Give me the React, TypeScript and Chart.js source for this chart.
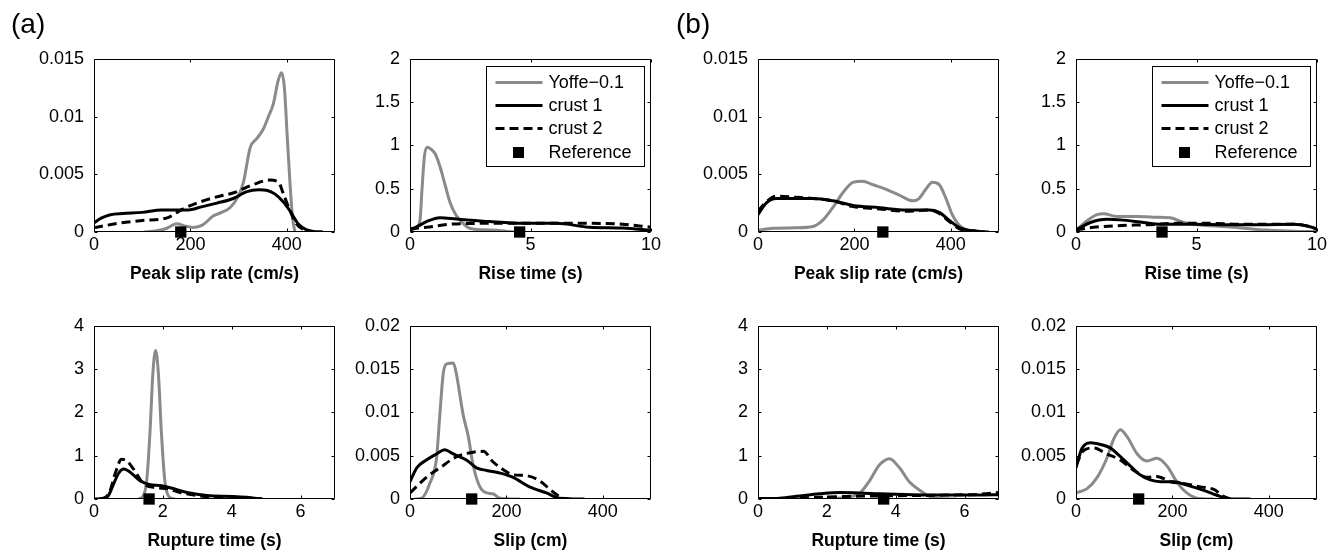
import React, { useEffect, useRef } from "react";
import { Chart, registerables } from "chart.js";
Chart.register(...registerables);

type Pt = [number, number];

const FONT = '"Liberation Sans", Arial, Helvetica, sans-serif';
const GRAY = "#8a8a8a";

// ---------- tick labels ----------
const peakTicksX = [0, 200, 400];
const peakTicksY = [0, 0.005, 0.01, 0.015];
const riseTicksX = [0, 5, 10];
const riseTicksY = [0, 0.5, 1, 1.5, 2];
const ruptTicksX = [0, 2, 4, 6];
const ruptTicksY = [0, 1, 2, 3, 4];
const slipTicksX = [0, 200, 400];
const slipTicksY = [0, 0.005, 0.01, 0.015, 0.02];

const seriesLabels = ["Yoffe\u22120.1", "crust 1", "crust 2", "Reference"];

// ---------- (a) Peak slip rate ----------
const aPeakYoffe: Pt[] = [[103,0],[130,0.0001],[150,0.0003],[172,0.00072],[190,0.0005],[206,0.0004],[225,0.0006],[248,0.0014],[265,0.0017],[282,0.0021],[298,0.003],[310,0.0043],[324,0.0073],[338,0.0081],[351,0.0089],[362,0.01],[372,0.0111],[382,0.0131],[389,0.0138],[395,0.0125],[401,0.0082],[407,0.004],[412,0.0012],[417,0]];
const aPeakCrust1: Pt[] = [[0,0.0008],[15,0.0012],[34,0.0015],[60,0.0016],[100,0.0017],[140,0.0019],[193,0.0019],[225,0.0022],[255,0.0025],[289,0.0029],[317,0.0035],[342,0.00366],[360,0.0036],[375,0.0033],[393,0.0026],[407,0.0018],[424,0.0007],[440,0.0002],[455,0.00005],[475,0]];
const aPeakCrust2: Pt[] = [[0,0.00036],[48,0.00074],[100,0.001],[150,0.0012],[165,0.0015],[180,0.0019],[220,0.0026],[260,0.0031],[290,0.0034],[330,0.0041],[365,0.0045],[383,0.0043],[393,0.0033],[407,0.0018],[420,0.0007],[435,0.0002],[450,0]];
const aPeakRef = 180;

// ---------- (a) Rise time ----------
const aRiseYoffe: Pt[] = [[0,0.02],[0.3,0.06],[0.42,0.15],[0.5,0.5],[0.6,0.88],[0.72,0.98],[0.9,0.95],[1.05,0.9],[1.25,0.75],[1.45,0.55],[1.65,0.35],[1.9,0.2],[2.2,0.1],[2.5,0.04],[3.0,0.025],[3.6,0.02],[4.3,0]];
const aRiseCrust1: Pt[] = [[0,0.02],[0.35,0.07],[0.69,0.12],[1.24,0.165],[1.93,0.15],[3.3,0.12],[4.7,0.1],[6.07,0.1],[7.45,0.055],[8.83,0.045],[10,0.02]];
const aRiseCrust2: Pt[] = [[0,0.04],[0.69,0.055],[1.65,0.09],[3.3,0.1],[5.4,0.1],[7.45,0.1],[8.83,0.09],[10,0.055]];
const aRiseRef = 4.55;

// ---------- (a) Rupture time ----------
const aRuptYoffe: Pt[] = [[1.3,0],[1.45,0.1],[1.54,0.5],[1.63,1.6],[1.71,2.9],[1.79,3.43],[1.87,2.9],[1.96,1.5],[2.06,0.4],[2.18,0.05],[2.35,0]];
const aRuptCrust1: Pt[] = [[0,0],[0.3,0.01],[0.42,0.08],[0.57,0.35],[0.72,0.6],[0.86,0.69],[1.05,0.62],[1.34,0.42],[1.63,0.33],[1.92,0.31],[2.21,0.26],[2.7,0.15],[3.28,0.08],[4.05,0.06],[4.44,0.04],[4.87,0]];
const aRuptCrust2: Pt[] = [[0.18,0],[0.35,0.05],[0.47,0.2],[0.62,0.6],[0.8,0.92],[0.95,0.88],[1.15,0.69],[1.44,0.35],[1.83,0.26],[2.12,0.24],[2.5,0.15],[3.09,0.07],[4.05,0.04],[4.63,0.015],[4.9,0]];
const aRuptRef = 1.6;

// ---------- (a) Slip ----------
const aSlipYoffe: Pt[] = [[10,0],[24,0.0001],[41,0.0018],[55,0.0047],[62,0.0098],[69,0.0145],[76,0.0156],[90,0.0157],[97,0.0142],[110,0.0098],[121,0.0072],[131,0.0039],[145,0.0014],[159,0.0007],[172,0.0006],[186,0.0001],[228,0]];
const aSlipCrust1: Pt[] = [[0,0.002],[14,0.0036],[34,0.0045],[55,0.0052],[72,0.0057],[90,0.0052],[117,0.0045],[138,0.0036],[159,0.0033],[186,0.003],[214,0.0025],[248,0.0014],[283,0.0007],[310,0.0001],[362,0]];
const aSlipCrust2: Pt[] = [[0,0.0007],[34,0.0025],[62,0.0036],[97,0.0049],[131,0.0054],[152,0.0055],[172,0.0043],[193,0.0034],[214,0.0028],[241,0.0027],[269,0.0021],[297,0.0008],[317,0.0001],[331,0]];
const aSlipRef = 128;

// ---------- (b) Peak slip rate ----------
const bPeakYoffe: Pt[] = [[0,0.00014],[31,0.00033],[79,0.00036],[114,0.00047],[134,0.001],[155,0.0021],[176,0.0034],[197,0.0043],[217,0.0044],[238,0.0041],[266,0.0037],[293,0.0032],[321,0.0027],[334,0.0029],[348,0.0037],[362,0.0043],[376,0.0041],[390,0.0029],[403,0.0015],[417,0.0006],[431,0.0002],[459,0]];
const bPeakCrust1: Pt[] = [[0,0.0015],[17,0.0025],[38,0.0029],[79,0.0029],[114,0.0029],[155,0.0027],[197,0.0023],[252,0.0021],[307,0.0019],[355,0.0019],[376,0.0017],[397,0.001],[417,0.0004],[445,0.0001],[479,0]];
const bPeakCrust2: Pt[] = [[0,0.0018],[17,0.0026],[38,0.0031],[79,0.003],[114,0.0029],[155,0.0027],[197,0.0022],[252,0.002],[307,0.0018],[355,0.0019],[376,0.0016],[397,0.0009],[417,0.0003],[445,0.0001],[470,0]];
const bPeakRef = 259;

// ---------- (b) Rise time ----------
const bRiseYoffe: Pt[] = [[0,0.02],[0.46,0.13],[0.87,0.2],[1.15,0.21],[1.7,0.18],[2.53,0.18],[3.22,0.17],[3.91,0.165],[4.47,0.11],[5.02,0.085],[6.27,0.06],[7.65,0.026],[9.03,0.01],[10,0.005]];
const bRiseCrust1: Pt[] = [[0,0.025],[0.6,0.11],[1.29,0.147],[1.84,0.14],[2.81,0.11],[3.5,0.09],[4.88,0.09],[6.27,0.085],[7.65,0.085],[9.03,0.09],[9.6,0.07],[10,0.035]];
const bRiseCrust2: Pt[] = [[0,0.025],[0.73,0.055],[1.7,0.073],[3.08,0.085],[4.19,0.1],[5.57,0.1],[6.96,0.09],[8.34,0.09],[9.17,0.09],[10,0.035]];
const bRiseRef = 3.57;

// ---------- (b) Rupture time ----------
const bRuptYoffe: Pt[] = [[1.98,0],[2.56,0.04],[2.95,0.13],[3.24,0.42],[3.53,0.79],[3.82,0.93],[4.11,0.72],[4.4,0.39],[4.7,0.2],[4.99,0.06],[5.28,0.01],[5.76,0]];
const bRuptCrust1: Pt[] = [[0,0.01],[0.63,0.02],[1.21,0.07],[1.79,0.12],[2.37,0.15],[2.95,0.14],[3.53,0.12],[4.5,0.1],[5.47,0.09],[6.44,0.09],[7,0.1]];
const bRuptCrust2: Pt[] = [[0,0],[1.11,0.02],[1.79,0.04],[2.56,0.06],[3.53,0.07],[4.5,0.08],[5.47,0.09],[6.44,0.11],[7,0.15]];
const bRuptRef = 3.65;

// ---------- (b) Slip ----------
const bSlipYoffe: Pt[] = [[0,0.0007],[23,0.0012],[44,0.0025],[64,0.0047],[78,0.0069],[92,0.008],[106,0.0072],[127,0.0052],[147,0.0044],[168,0.0047],[189,0.0038],[210,0.0019],[230,0.0007],[251,0.0001],[286,0]];
const bSlipCrust1: Pt[] = [[0,0.0036],[12,0.0058],[30,0.0065],[51,0.0063],[71,0.0059],[92,0.0049],[113,0.0038],[133,0.0028],[154,0.0022],[175,0.002],[203,0.002],[230,0.0016],[265,0.001],[299,0.0003],[327,0],[362,0]];
const bSlipCrust2: Pt[] = [[0,0.0039],[16,0.0056],[37,0.0059],[64,0.0052],[92,0.0045],[120,0.0033],[147,0.0025],[168,0.0026],[196,0.002],[223,0.0018],[258,0.0014],[286,0.0011],[306,0.0003],[320,0]];
const bSlipRef = 130;

// ---------- layout ----------
const AXIS_W = 80;
const AXIS_H = 58;
const PAD_T = 12;
const PAD_R = 14;
const PLOT_W = 241;
const PLOT_H = 182;
const TICK_SIZE = 18;
const TITLE_SIZE = 17.5;

interface PanelSpec {
  left: number;
  top: number;
  xLabel: string;
  xMax: number;
  yMax: number;
  xTicks: number[];
  yTicks: number[];
  yoffe: Pt[];
  crust1: Pt[];
  crust2: Pt[];
  ref: number;
  legend: boolean;
}

const LEFTS = [94, 410, 758, 1076];
const TOPS = [50, 317];

const panels: PanelSpec[] = [
  { left: LEFTS[0], top: TOPS[0], xLabel: "Peak slip rate (cm/s)", xMax: 500, yMax: 0.015, xTicks: peakTicksX, yTicks: peakTicksY, yoffe: aPeakYoffe, crust1: aPeakCrust1, crust2: aPeakCrust2, ref: aPeakRef, legend: false },
  { left: LEFTS[1], top: TOPS[0], xLabel: "Rise time (s)", xMax: 10, yMax: 2, xTicks: riseTicksX, yTicks: riseTicksY, yoffe: aRiseYoffe, crust1: aRiseCrust1, crust2: aRiseCrust2, ref: aRiseRef, legend: true },
  { left: LEFTS[0], top: TOPS[1], xLabel: "Rupture time (s)", xMax: 7, yMax: 4, xTicks: ruptTicksX, yTicks: ruptTicksY, yoffe: aRuptYoffe, crust1: aRuptCrust1, crust2: aRuptCrust2, ref: aRuptRef, legend: false },
  { left: LEFTS[1], top: TOPS[1], xLabel: "Slip (cm)", xMax: 500, yMax: 0.02, xTicks: slipTicksX, yTicks: slipTicksY, yoffe: aSlipYoffe, crust1: aSlipCrust1, crust2: aSlipCrust2, ref: aSlipRef, legend: false },
  { left: LEFTS[2], top: TOPS[0], xLabel: "Peak slip rate (cm/s)", xMax: 500, yMax: 0.015, xTicks: peakTicksX, yTicks: peakTicksY, yoffe: bPeakYoffe, crust1: bPeakCrust1, crust2: bPeakCrust2, ref: bPeakRef, legend: false },
  { left: LEFTS[3], top: TOPS[0], xLabel: "Rise time (s)", xMax: 10, yMax: 2, xTicks: riseTicksX, yTicks: riseTicksY, yoffe: bRiseYoffe, crust1: bRiseCrust1, crust2: bRiseCrust2, ref: bRiseRef, legend: true },
  { left: LEFTS[2], top: TOPS[1], xLabel: "Rupture time (s)", xMax: 7, yMax: 4, xTicks: ruptTicksX, yTicks: ruptTicksY, yoffe: bRuptYoffe, crust1: bRuptCrust1, crust2: bRuptCrust2, ref: bRuptRef, legend: false },
  { left: LEFTS[3], top: TOPS[1], xLabel: "Slip (cm)", xMax: 500, yMax: 0.02, xTicks: slipTicksX, yTicks: slipTicksY, yoffe: bSlipYoffe, crust1: bSlipCrust1, crust2: bSlipCrust2, ref: bSlipRef, legend: false },
];

const toXY = (pts: Pt[]) => pts.map(([x, y]) => ({ x, y }));

function makeFramePlugin(spec: PanelSpec) {
  return {
    id: "matlabFrame",
    afterDraw(chart: any) {
      const ctx: CanvasRenderingContext2D = chart.ctx;
      const ca = chart.chartArea;
      const xs = chart.scales.x;
      const ys = chart.scales.y;
      const L = Math.round(ca.left) + 0.5;
      const R = Math.round(ca.right) - 0.5;
      const T = Math.round(ca.top) + 0.5;
      const B = Math.round(ca.bottom) - 0.5;
      const TL = 3;
      ctx.save();
      ctx.strokeStyle = "#000";
      ctx.lineWidth = 1;
      ctx.setLineDash([]);
      ctx.beginPath();
      ctx.rect(L, T, R - L, B - T);
      spec.xTicks.forEach((v) => {
        const px = Math.round(xs.getPixelForValue(v)) + 0.5;
        ctx.moveTo(px, B);
        ctx.lineTo(px, B - TL);
        ctx.moveTo(px, T);
        ctx.lineTo(px, T + TL);
      });
      spec.yTicks.forEach((v) => {
        const py = Math.round(ys.getPixelForValue(v)) + 0.5;
        ctx.moveTo(L, py);
        ctx.lineTo(L + TL, py);
        ctx.moveTo(R, py);
        ctx.lineTo(R - TL, py);
      });
      ctx.stroke();

      if (spec.legend) {
        const bw = 158;
        const bh = 100;
        const bx = Math.round(ca.right) - 7 - bw + 0.5;
        const by = Math.round(ca.top) + 7 + 0.5;
        ctx.fillStyle = "#fff";
        ctx.fillRect(bx, by, bw, bh);
        ctx.strokeRect(bx, by, bw, bh);
        const rowY = [16, 39, 62, 86];
        const styles = [
          { color: GRAY, dash: [] as number[] },
          { color: "#000", dash: [] as number[] },
          { color: "#000", dash: [9, 5] },
        ];
        ctx.font = `${TICK_SIZE}px ${FONT}`;
        ctx.textBaseline = "middle";
        ctx.textAlign = "left";
        seriesLabels.forEach((lab, i) => {
          const y = by + rowY[i];
          if (i < 3) {
            ctx.beginPath();
            ctx.strokeStyle = styles[i].color;
            ctx.lineWidth = 3;
            ctx.setLineDash(styles[i].dash);
            ctx.moveTo(bx + 9, y);
            ctx.lineTo(bx + 56, y);
            ctx.stroke();
            ctx.setLineDash([]);
          } else {
            ctx.fillStyle = "#000";
            ctx.fillRect(bx + 32 - 5.5, y - 5.5, 11, 11);
          }
          ctx.fillStyle = "#000";
          ctx.fillText(lab, bx + 62, y + 1);
        });
      }
      ctx.restore();
    },
  };
}

function Panel({ spec }: { spec: PanelSpec }) {
  const ref = useRef<HTMLCanvasElement>(null);
  const cw = AXIS_W + PLOT_W + PAD_R;
  const ch = PAD_T + PLOT_H + AXIS_H;
  useEffect(() => {
    const lineCommon = {
      showLine: true,
      pointRadius: 0,
      pointHoverRadius: 0,
      borderWidth: 3,
      cubicInterpolationMode: "monotone" as const,
      fill: false,
    };
    const chart = new Chart(ref.current!, {
      type: "scatter",
      data: {
        datasets: [
          {
            label: seriesLabels[3],
            data: [{ x: spec.ref, y: 0 }],
            pointStyle: "rect",
            pointRadius: 8,
            pointHoverRadius: 8,
            backgroundColor: "#000",
            borderColor: "#000",
            borderWidth: 0,
            showLine: false,
            clip: false,
            order: 0,
          } as any,
          { ...lineCommon, label: seriesLabels[2], data: toXY(spec.crust2), borderColor: "#000", borderDash: [9, 5], order: 1 } as any,
          { ...lineCommon, label: seriesLabels[1], data: toXY(spec.crust1), borderColor: "#000", order: 2 } as any,
          { ...lineCommon, label: seriesLabels[0], data: toXY(spec.yoffe), borderColor: GRAY, order: 3 } as any,
        ],
      },
      options: {
        responsive: false,
        animation: false,
        devicePixelRatio: 1,
        events: [],
        layout: { padding: { top: PAD_T, right: PAD_R, left: 0, bottom: 0 } },
        plugins: { legend: { display: false }, tooltip: { enabled: false } },
        scales: {
          x: {
            type: "linear",
            position: "bottom",
            min: 0,
            max: spec.xMax,
            bounds: "data",
            afterBuildTicks: (s: any) => {
              s.ticks = spec.xTicks.map((v) => ({ value: v }));
            },
            afterFit: (s: any) => {
              s.height = AXIS_H;
            },
            grid: { display: false, drawTicks: false },
            border: { display: false },
            ticks: {
              padding: 2,
              color: "#000",
              maxRotation: 0,
              autoSkip: false,
              font: { family: FONT, size: TICK_SIZE },
              callback: (v: any) => String(v),
            },
            title: {
              display: true,
              text: spec.xLabel,
              color: "#000",
              font: { family: FONT, size: TITLE_SIZE, weight: "bold" },
              padding: { top: 0, bottom: 5 },
            },
          },
          y: {
            type: "linear",
            position: "left",
            min: 0,
            max: spec.yMax,
            bounds: "data",
            afterBuildTicks: (s: any) => {
              s.ticks = spec.yTicks.map((v) => ({ value: v }));
            },
            afterFit: (s: any) => {
              s.width = AXIS_W;
            },
            grid: { display: false, drawTicks: false },
            border: { display: false },
            ticks: {
              padding: 10,
              color: "#000",
              autoSkip: false,
              font: { family: FONT, size: TICK_SIZE },
              callback: (v: any) => String(v),
            },
          },
        },
      } as any,
      plugins: [makeFramePlugin(spec)],
    });
    return () => chart.destroy();
  }, []);
  return (
    <canvas
      ref={ref}
      width={cw}
      height={ch}
      style={{
        position: "absolute",
        left: spec.left - AXIS_W,
        top: spec.top - PAD_T,
        width: cw,
        height: ch,
      }}
    />
  );
}

export default function App() {
  const labelStyle: React.CSSProperties = {
    position: "absolute",
    top: 10,
    fontFamily: FONT,
    fontSize: 28,
    lineHeight: "28px",
    color: "#000",
  };
  return (
    <div
      style={{
        position: "absolute",
        left: 0,
        top: 0,
        width: 1338,
        height: 557,
        background: "#fff",
        overflow: "hidden",
      }}
    >
      {panels.map((p, i) => (
        <Panel key={i} spec={p} />
      ))}
      <div style={{ ...labelStyle, left: 11 }}>(a)</div>
      <div style={{ ...labelStyle, left: 676 }}>(b)</div>
    </div>
  );
}
